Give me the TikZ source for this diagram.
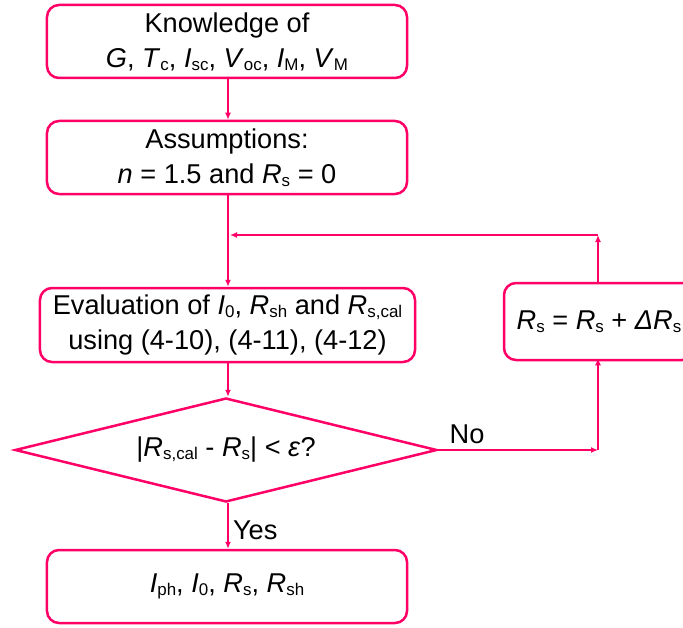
\documentclass[tikz,border=0pt]{standalone}
\usepackage{fontspec}
\setmainfont{Liberation Sans}
\usetikzlibrary{arrows.meta}
\usetikzlibrary{shapes.geometric}
\definecolor{flowpink}{RGB}{255,0,102}
\newcommand{\subtxt}[1]{\raisebox{-3bp}{\fontsize{17}{17}\selectfont #1}}
\newcommand{\qty}[2]{\textit{#1}\subtxt{#2}}
\tikzset{
  flowbox/.style = {draw=flowpink, line width=2.5bp, rounded corners=12bp, align=center,
                    minimum width=360bp, minimum height=73bp, inner sep=0pt},
  flowdiam/.style = {draw=flowpink, line width=2.5bp, diamond, aspect=4, inner sep=0pt,
                     minimum width=422bp, minimum height=104bp},
  flowline/.style = {draw=flowpink, line width=1.5bp, -{Latex[length=7bp,width=6bp]}}
}

\begin{document}
\begin{tikzpicture} [x=1bp, y=-1bp, font=\fontsize{27.3}{35}\selectfont]
\useasboundingbox (0,0) rectangle (683,628);
\node[flowbox] (know)   at (227,41.5) {Knowledge of\\\textit{G}, \qty{T}{c}, \qty{I}{sc}, \qty{V}{oc}, \qty{I}{M}, \qty{V}{M}};
\node[flowbox] (assume) at (227,157.5) {Assumptions:\\\textit{n} = 1.5 and \qty{R}{s} = 0};
\node[flowbox, minimum width=375bp, minimum height=74bp] (evalbox) at (227.5,325)
  {Evaluation of \qty{I}{0}, \qty{R}{sh} and \qty{R}{s,cal}\\using (4-10), (4-11), (4-12)};
\node[flowbox, minimum width=190bp, minimum height=77bp] (update) at (599,321.5)
  {\qty{R}{s} = \qty{R}{s} + \textit{ΔR}\subtxt{s}};
\node[flowdiam] (check)  at (226,450) {|\qty{R}{s,cal} - \qty{R}{s}| < \textit{ε}?};
\node[flowbox] (result) at (227,586.5) {\qty{I}{ph}, \qty{I}{0}, \qty{R}{s}, \qty{R}{sh}};
\coordinate (ret)  at (598,235);
\coordinate (join) at (228,235);
\coordinate (turn) at (598,450);
\draw[flowline] (know.south -| join) -- (assume.north -| join);
\draw[flowline] (assume.south -| join) -- (evalbox.north -| join);
\draw[flowline] (update.north -| ret) -- (ret);
\draw[flowline] (ret) -- ([xshift=2bp]join);
\draw[flowline] (evalbox.south -| join) -- (check.north -| join);
\draw[flowline] (check.east) -- (turn) node[pos=0.18, above=2bp] {No};
\draw[flowline] (turn) -- ([yshift=3bp]update.south -| turn);
\draw[flowline] (check.south -| join) -- (result.north -| join) node[midway, right=1bp, yshift=-4bp] {Yes};
\end{tikzpicture}
\end{document}
